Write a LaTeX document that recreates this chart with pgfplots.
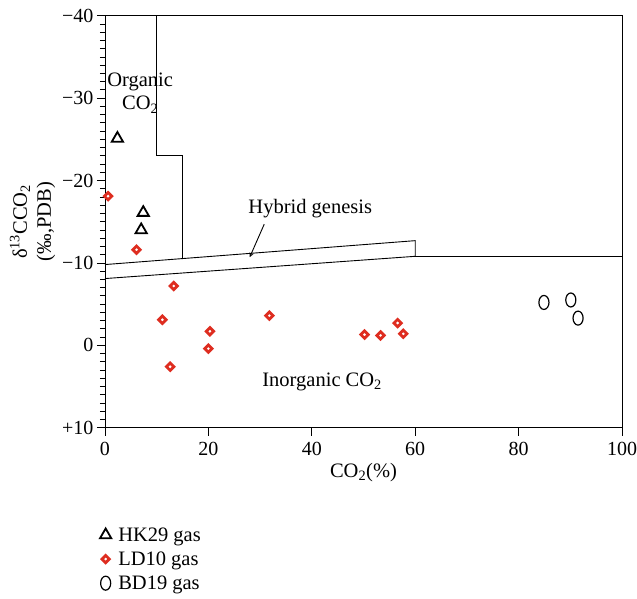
\documentclass[border=0pt]{standalone}
\usepackage{pgfplots}
\pgfplotsset{compat=1.18}
\usepackage{fontspec}
\setmainfont{Liberation Serif}
\definecolor{ldred}{RGB}{222,45,32}
\newcommand{\fs}{\fontsize{20.5bp}{24bp}\selectfont}
\begin{document}
\begin{tikzpicture}
\begin{axis}[
  scale only axis,
  width=517bp, height=412bp,
  xmin=0, xmax=100, ymin=-40, ymax=10,
  y dir=reverse,
  axis line style={line width=0.9bp},
  xtick={0,20,40,60,80,100},
  ytick={-40,-30,-20,-10,0,10},
  yticklabels={−40,−30,−20,−10,0,+10},
  minor y tick num=9,
  tick align=outside,
  xtick pos=bottom, ytick pos=left,
  major tick length=8bp, minor tick length=5bp,
  tick style={line width=0.8bp, black},
  /pgf/number format/assume math mode=true,
  tick label style={font=\fontsize{20bp}{24bp}\selectfont},
  xticklabel style={yshift=-3bp},
  label style={font=\fs},
  xlabel={CO\textsubscript{2}(\%)},
  ylabel={δ\textsuperscript{13}CCO\textsubscript{2}\\(‰,PDB)},
  ylabel style={align=center},
  xlabel style={yshift=-1bp},
  legend style={at={(-0.01,-0.232)}, anchor=north west, draw=none,
    font=\fs, row sep=5bp, column sep=5bp, inner xsep=0pt},
  legend cell align=left,
  clip=false,
]
% region boundaries
\addplot[black, line width=0.9bp, forget plot] coordinates {(10,-40) (10,-23) (15,-23) (15,-10.5)};
\addplot[black, line width=0.9bp, forget plot] coordinates {(0,-9.8) (60,-12.7) (60,-10.8) (0,-8.1)};
\addplot[black, line width=0.9bp, forget plot] coordinates {(60,-10.8) (100,-10.8)};
% data
\addplot[only marks, mark=triangle, mark size=6.5bp, black, line width=1.8bp] coordinates {
(2.4,-25.1) (7.4,-16.1) (7.0,-14.0)};
\addlegendentry{HK29 gas}
\addplot[only marks, mark=square, mark size=2.6bp, draw=ldred, line width=2.8bp, mark options={fill=white, rotate=45}] coordinates {
(0.6,-18.1) (6.1,-11.6) (13.3,-7.2) (11.1,-3.1) (20.3,-1.7) (20.0,0.4) (12.6,2.6)
(31.8,-3.6) (50.2,-1.3) (53.3,-1.2) (56.6,-2.7) (57.7,-1.4)};
\addlegendentry{LD10 gas}
\addplot[only marks, mark=o, mark size=7bp, black, line width=1.2bp, mark options={xscale=0.72}] coordinates {
(84.9,-5.2) (90.1,-5.5) (91.5,-3.3)};
\addlegendentry{BD19 gas}
% annotations
\node[font=\fs] at (axis cs:6.8,-32.0) {Organic};
\node[font=\fs] at (axis cs:6.8,-29.2) {CO\textsubscript{2}};
\node[font=\fs] at (axis cs:39.7,-16.6) {Hybrid genesis};
\node[font=\fs] at (axis cs:42.0,4.4) {Inorganic CO\textsubscript{2}};
\draw[-stealth, line width=0.9bp] (axis cs:30.8,-14.7) -- (axis cs:28,-10.7);
\coordinate (sw) at (rel axis cs:0,0);
\end{axis}
\pgfresetboundingbox
\path (sw) ++(-105bp,-171.3bp) rectangle ++(637bp,599bp);
\end{tikzpicture}
\end{document}
